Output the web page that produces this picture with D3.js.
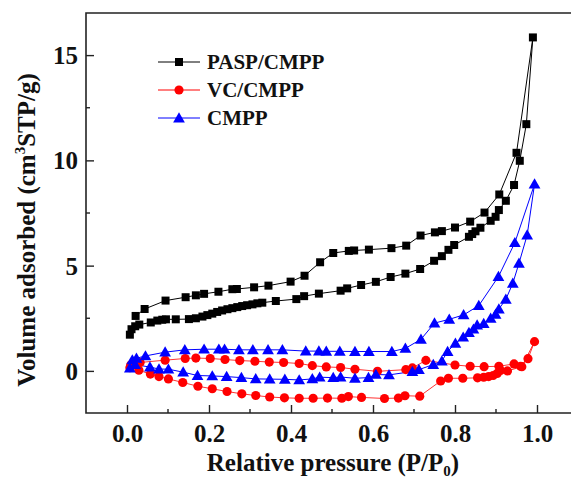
<!DOCTYPE html>
<html><head><meta charset="utf-8">
<script src="https://cdn.jsdelivr.net/npm/d3@7"></script>
<style>body{margin:0;background:#fff;}svg{display:block;}</style>
</head><body>
<svg id="c" width="571" height="485"></svg>
<script>
const seriesNames = ["PASP/CMPP", "VC/CMPP", "CMPP"];
const xTicks = [0.0, 0.2, 0.4, 0.6, 0.8, 1.0];
const yTicks = [0, 5, 10, 15];

// PASP/CMPP: adsorption then desorption [P/P0, volume]
const paspAds = [[0.007,1.72],[0.011,1.98],[0.02,2.12],[0.03,2.2],[0.058,2.3],[0.074,2.39],[0.086,2.43],[0.095,2.45],[0.119,2.45],[0.151,2.46],[0.168,2.5],[0.184,2.58],[0.196,2.65],[0.208,2.72],[0.22,2.8],[0.232,2.87],[0.245,2.93],[0.257,2.98],[0.269,3.03],[0.281,3.08],[0.293,3.12],[0.306,3.16],[0.318,3.21],[0.33,3.24],[0.363,3.32],[0.413,3.41],[0.432,3.55],[0.468,3.67],[0.521,3.81],[0.537,3.92],[0.571,4.08],[0.607,4.23],[0.643,4.46],[0.679,4.62],[0.715,4.84],[0.749,5.23],[0.768,5.45],[0.784,5.75],[0.798,5.98],[0.834,6.37],[0.842,6.5],[0.85,6.63],[0.862,6.8],[0.887,7.13],[0.899,7.32],[0.907,7.64],[0.924,8.08],[0.944,8.83],[0.958,9.98],[0.974,11.72],[0.99,15.84]];
const paspDes = [[0.95,10.36],[0.908,8.38],[0.872,7.52],[0.837,7.09],[0.80,6.81],[0.768,6.64],[0.751,6.58],[0.716,6.43],[0.681,5.95],[0.645,5.83],[0.59,5.76],[0.554,5.72],[0.541,5.7],[0.503,5.6],[0.471,5.16],[0.433,4.52],[0.399,4.24],[0.345,4.05],[0.31,3.97],[0.268,3.89],[0.257,3.88],[0.223,3.76],[0.188,3.66],[0.168,3.59],[0.143,3.5],[0.094,3.34],[0.043,2.94],[0.021,2.61]];

// VC/CMPP
const vcAds = [[0.007,0.15],[0.029,0.03],[0.057,-0.15],[0.078,-0.27],[0.101,-0.38],[0.136,-0.55],[0.173,-0.73],[0.208,-0.85],[0.244,-0.98],[0.28,-1.09],[0.314,-1.17],[0.348,-1.24],[0.384,-1.28],[0.42,-1.3],[0.454,-1.3],[0.489,-1.29],[0.524,-1.3],[0.54,-1.22],[0.572,-1.26],[0.628,-1.31],[0.662,-1.29],[0.678,-1.18],[0.714,-1.2],[0.765,-0.48],[0.784,-0.35],[0.819,-0.35],[0.855,-0.33],[0.87,-0.3],[0.882,-0.27],[0.893,-0.22],[0.903,-0.12],[0.911,0.02],[0.928,0.0],[0.963,0.2],[0.994,1.39]];
const vcDes = [[0.978,0.58],[0.96,0.22],[0.944,0.33],[0.907,0.22],[0.871,0.2],[0.837,0.22],[0.80,0.28],[0.729,0.5],[0.696,0.14],[0.68,0.06],[0.611,-0.02],[0.556,0.08],[0.521,0.16],[0.486,0.19],[0.452,0.25],[0.42,0.35],[0.382,0.4],[0.347,0.42],[0.312,0.46],[0.275,0.49],[0.239,0.54],[0.203,0.59],[0.168,0.61],[0.142,0.59],[0.093,0.51],[0.032,0.4],[0.009,0.28]];

// CMPP
const cmppAds = [[0.007,0.13],[0.02,0.3],[0.056,0.18],[0.078,0.09],[0.101,0.08],[0.137,-0.06],[0.172,-0.22],[0.208,-0.24],[0.243,-0.27],[0.279,-0.32],[0.314,-0.38],[0.348,-0.39],[0.385,-0.4],[0.42,-0.43],[0.452,-0.38],[0.47,-0.3],[0.503,-0.32],[0.521,-0.29],[0.556,-0.35],[0.589,-0.32],[0.607,-0.17],[0.639,-0.19],[0.696,-0.03],[0.712,0.06],[0.747,0.3],[0.768,0.47],[0.782,0.92],[0.801,1.31],[0.82,1.6],[0.834,1.82],[0.845,1.98],[0.854,2.18],[0.87,2.25],[0.887,2.5],[0.899,2.69],[0.907,2.94],[0.924,3.4],[0.941,4.16],[0.956,5.11],[0.976,6.45],[0.994,8.87]];
const cmppDes = [[0.946,6.09],[0.906,4.48],[0.858,3.1],[0.821,2.66],[0.786,2.45],[0.75,2.27],[0.717,1.5],[0.679,1.07],[0.646,0.92],[0.59,0.92],[0.556,0.92],[0.519,0.93],[0.486,0.93],[0.468,0.94],[0.436,0.94],[0.379,1.0],[0.344,1.0],[0.307,1.0],[0.273,1.0],[0.238,1.03],[0.224,1.03],[0.188,1.03],[0.141,1.0],[0.093,0.89],[0.045,0.71],[0.023,0.6],[0.013,0.52]];

const series = [
  {name: seriesNames[0], color: "#000000", shape: d3.symbolSquare, size: 64, data: paspAds.concat(paspDes)},
  {name: seriesNames[1], color: "#ff0000", shape: d3.symbolCircle, size: 66, data: vcAds.concat(vcDes)},
  {name: seriesNames[2], color: "#0000ff", shape: d3.symbolTriangle, size: 60, data: cmppAds.concat(cmppDes)}
];

const svg = d3.select("#c");
const L = 86, T = 13, B = 413;
const x = d3.scaleLinear().domain([-0.1, 1.1]).range([L, L + 1.2 * 410]);
const y = d3.scaleLinear().domain([-2, 17]).range([B, T]);
const R = x(1.1);
const serif = "'Liberation Serif','Times New Roman',serif";

// data
const line = d3.line().x(d => x(d[0])).y(d => y(d[1]));
series.forEach(s => {
  svg.append("path").attr("d", line(s.data)).attr("fill", "none")
    .attr("stroke", s.color).attr("stroke-width", 1).attr("opacity", s.color === "#ff0000" ? 0.8 : 1);
});
series.forEach(s => {
  const sym = d3.symbol().type(s.shape).size(s.size);
  svg.append("g").selectAll("path").data(s.data).join("path")
    .attr("d", sym)
    .attr("transform", d => `translate(${x(d[0])},${y(d[1]) + (s.shape === d3.symbolTriangle ? 1 : 0)})`)
    .attr("fill", s.color);
});

// frame
const frame = svg.append("g").attr("stroke", "#222").attr("stroke-width", 1.6).attr("fill", "none");
frame.append("path").attr("d", `M${R},${T}H${L}V${B}H${R}`);

// axes (inward ticks)
const xAxis = d3.axisBottom(x).tickValues(xTicks).tickSize(-8).tickFormat(d3.format(".1f"));
const gx = svg.append("g").attr("transform", `translate(0,${B})`).call(xAxis);
gx.select(".domain").remove();
gx.selectAll(".tick line").attr("stroke", "#222").attr("stroke-width", 1.4);
gx.selectAll(".tick text").attr("y", 29).attr("dy", 0)
  .attr("font-family", serif).attr("font-weight", "bold").attr("font-size", 25).attr("fill", "#111");
const xMinor = [0.1, 0.3, 0.5, 0.7, 0.9];
svg.append("g").selectAll("line").data(xMinor).join("line")
  .attr("x1", d => x(d)).attr("x2", d => x(d)).attr("y1", B).attr("y2", B - 4)
  .attr("stroke", "#222").attr("stroke-width", 1.4);

const yAxis = d3.axisLeft(y).tickValues(yTicks).tickSize(-8).tickFormat(d3.format("d"));
const gy = svg.append("g").attr("transform", `translate(${L},0)`).call(yAxis);
gy.select(".domain").remove();
gy.selectAll(".tick line").attr("stroke", "#222").attr("stroke-width", 1.4);
gy.selectAll(".tick text").attr("x", -8).attr("dy", "0.34em")
  .attr("font-family", serif).attr("font-weight", "bold").attr("font-size", 25).attr("fill", "#111");
const yMinor = [2.5, 7.5, 12.5];
svg.append("g").selectAll("line").data(yMinor).join("line")
  .attr("x1", L).attr("x2", L + 4).attr("y1", d => y(d)).attr("y2", d => y(d))
  .attr("stroke", "#222").attr("stroke-width", 1.4);

// axis titles
const xt = svg.append("text").attr("x", 333).attr("y", 471).attr("text-anchor", "middle")
  .attr("font-family", serif).attr("font-weight", "bold").attr("font-size", 25).attr("fill", "#111");
xt.append("tspan").text("Relative pressure (P/P");
xt.append("tspan").attr("font-size", 15).attr("dy", 5).text("0");
xt.append("tspan").attr("dy", -5).text(")");

const yt = svg.append("text").attr("transform", "translate(35,230) rotate(-90)").attr("text-anchor", "middle")
  .attr("font-family", serif).attr("font-weight", "bold").attr("font-size", 25).attr("fill", "#111");
yt.append("tspan").text("Volume adsorbed (cm");
yt.append("tspan").attr("font-size", 15).attr("dy", -10).text("3");
yt.append("tspan").attr("dy", 10).text("STP/g)");

// legend
const leg = svg.append("g");
series.forEach((s, i) => {
  const cy = 62 + i * 28;
  leg.append("line").attr("x1", 158).attr("x2", 200).attr("y1", cy).attr("y2", cy)
    .attr("stroke", s.color).attr("stroke-width", 1);
  leg.append("path").attr("d", d3.symbol().type(s.shape).size(s.size)())
    .attr("transform", `translate(179,${cy + (s.shape === d3.symbolTriangle ? 1 : 0)})`).attr("fill", s.color);
  leg.append("text").attr("x", 207).attr("y", cy).attr("dy", "0.35em").text(s.name)
    .attr("font-family", serif).attr("font-weight", "bold").attr("font-size", 21).attr("fill", "#111");
});
</script>
</body></html>
